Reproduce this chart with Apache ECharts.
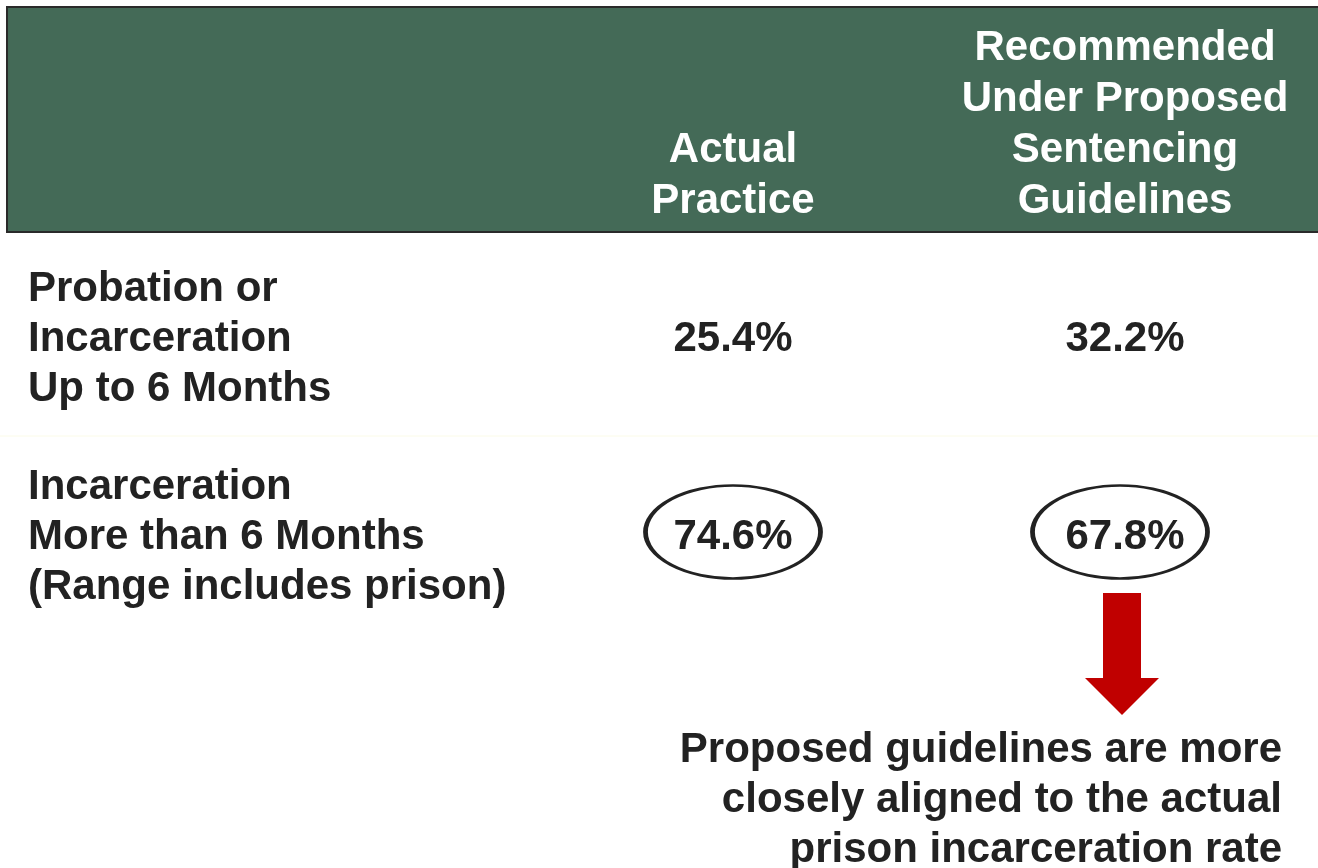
<!DOCTYPE html>
<html>
<head>
<meta charset="utf-8">
<script src="https://cdn.jsdelivr.net/npm/echarts@6/dist/echarts.min.js"></script>
<style>
  html, body { margin: 0; padding: 0; background: #fff; }
  #main { width: 1318px; height: 868px; }
</style>
</head>
<body>
<div id="main"></div>
<script>
// table content
const columns = ['Actual\nPractice', 'Recommended\nUnder Proposed\nSentencing\nGuidelines']
const rows = ['Probation or\nIncarceration\nUp to 6 Months', 'Incarceration\nMore than 6 Months\n(Range includes prison)']
const actualPractice = [25.4, 74.6]
const proposedGuidelines = [32.2, 67.8]
const circledRow = 1
const note = 'Proposed guidelines are more\nclosely aligned to the actual\nprison incarceration rate'

const font = 'Arial, "Liberation Sans", Helvetica, sans-serif'
const ink = '#222222'

const chart = echarts.init(document.getElementById('main'))

let valueData = []
actualPractice.forEach((v, i) => valueData.push([0, i, v]))
proposedGuidelines.forEach((v, i) => valueData.push([1, i, v]))

let ringData = [
    { value: [0, circledRow], symbolOffset: [0, -5] },
    { value: [1, circledRow], symbolOffset: [-5, -5] }
]

chart.setOption({
    animation: false,
    backgroundColor: '#ffffff',
    grid: { left: 733, right: 193, top: 339, bottom: 331 },
    xAxis: {
        type: 'category',
        position: 'top',
        boundaryGap: false,
        data: columns,
        axisLine: { show: false },
        axisTick: { show: false },
        axisLabel: {
            interval: 0,
            margin: 112,
            color: '#ffffff',
            fontFamily: font,
            fontWeight: 'bold',
            fontSize: 42,
            lineHeight: 51,
            align: 'center',
            verticalAlign: 'bottom'
        },
        z: 10
    },
    yAxis: {
        type: 'category',
        inverse: true,
        boundaryGap: false,
        data: rows,
        axisLine: { show: false },
        axisTick: { show: false },
        splitLine: { show: false },
        axisLabel: {
            interval: 0,
            margin: 705,
            align: 'left',
            color: ink,
            fontFamily: font,
            fontWeight: 'bold',
            fontSize: 42,
            lineHeight: 50
        }
    },
    graphic: [
        {
            id: 'header',
            type: 'rect',
            z: -1,
            shape: { x: 7, y: 7, width: 1320, height: 225 },
            style: { fill: '#446a57', stroke: '#2a2a2a', lineWidth: 2 }
        },
        {
            id: 'rowline',
            type: 'line',
            z: -1,
            shape: { x1: 0, y1: 436, x2: 1318, y2: 436 },
            style: { stroke: '#fbfbe8', lineWidth: 1 }
        },
        {
            id: 'note',
            type: 'text',
            style: {
                text: note,
                x: 1282,
                y: 725,
                align: 'right',
                verticalAlign: 'top',
                font: 'bold 42px ' + font,
                lineHeight: 50,
                fill: ink
            }
        }
    ],
    series: [
        {
            name: 'values',
            type: 'scatter',
            symbol: 'circle',
            symbolSize: 1,
            itemStyle: { color: 'rgba(0,0,0,0)', opacity: 1 },
            data: valueData,
            label: {
                show: true,
                position: 'inside',
                formatter: (p) => p.value[2].toFixed(1) + '%',
                color: ink,
                opacity: 1,
                fontFamily: font,
                fontWeight: 'bold',
                fontSize: 42
            },
            z: 3
        },
        {
            name: 'ring',
            type: 'scatter',
            symbol: 'circle',
            symbolSize: [175, 93],
            data: ringData,
            itemStyle: { color: 'rgba(0,0,0,0)', borderColor: ink, borderWidth: 3.5, opacity: 1 },
            silent: true,
            z: 2
        }
    ]
})

// red arrow under the proposed-guidelines ring
const anchor = chart.convertToPixel({ gridIndex: 0 }, [1, circledRow])
const ax = anchor[0] - 3
const ay = anchor[1] + 56
chart.setOption({
    graphic: [
        {
            id: 'arrow',
            type: 'polygon',
            shape: {
                points: [
                    [ax - 19, ay], [ax + 19, ay], [ax + 19, ay + 85], [ax + 37, ay + 85],
                    [ax, ay + 122], [ax - 37, ay + 85], [ax - 19, ay + 85]
                ]
            },
            style: { fill: '#c00000' }
        }
    ]
})
</script>
</body>
</html>
